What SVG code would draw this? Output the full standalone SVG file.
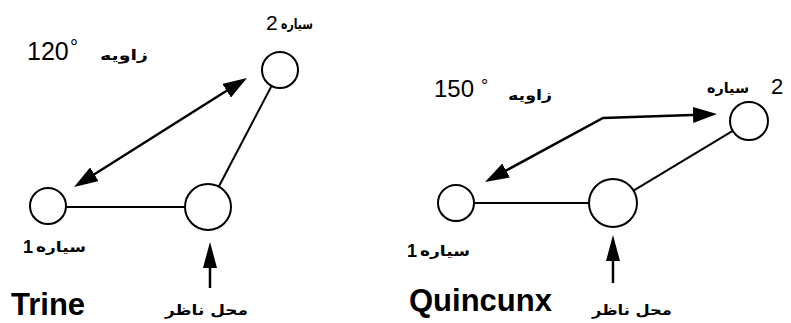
<svg xmlns="http://www.w3.org/2000/svg" width="791" height="323" viewBox="0 0 791 323">
<style>
.bg{fill:#fff}
.body{fill:#fff;stroke:#000;stroke-width:2}
.ln{stroke:#000;stroke-width:2;fill:none}
.ar{stroke:#000;stroke-width:2.5;fill:none}
.num{font-family:"Liberation Sans",Arial,sans-serif;fill:#000}
.fa{font-family:"DejaVu Sans","Noto Sans",sans-serif;fill:#000;font-size:14px;font-weight:bold}
.title{font-family:"Liberation Sans",Arial,sans-serif;font-weight:bold;font-size:31px;fill:#000}
</style>
<defs>
<marker id="ah" viewBox="0 0 24 16" refX="14" refY="8" markerWidth="24" markerHeight="16" markerUnits="userSpaceOnUse" orient="auto-start-reverse">
<path d="M0,0 L24,8 L0,16 z" fill="#000"/>
</marker>
<marker id="ahv" viewBox="0 0 26 14" refX="16" refY="7" markerWidth="26" markerHeight="14" markerUnits="userSpaceOnUse" orient="auto">
<path d="M0,0 L26,7 L0,14 z" fill="#000"/>
</marker>
</defs>
<rect class="bg" x="0" y="0" width="791" height="323"/>

<g id="connectors">
<!-- Trine -->
<line class="ln" x1="66" y1="207" x2="185" y2="207"/>
<line class="ln" x1="218.7" y1="186.7" x2="271.6" y2="85.9"/>
<line class="ar" x1="82.5" y1="181.7" x2="238.5" y2="83.3" marker-start="url(#ah)" marker-end="url(#ah)"/>
<line class="ar" x1="210" y1="288" x2="210" y2="252" marker-end="url(#ahv)"/>
<!-- Quincunx -->
<line class="ln" x1="474" y1="203" x2="589" y2="203"/>
<line class="ln" x1="633.5" y1="190.6" x2="732.7" y2="130.8"/>
<path class="ar" d="M493.8,177.2 L603,118 L707,114.4" marker-start="url(#ah)" marker-end="url(#ah)"/>
<line class="ar" x1="613" y1="283" x2="613" y2="245" marker-end="url(#ahv)"/>
</g>

<!-- Trine diagram -->
<g id="trine-planet1">
<circle class="body" cx="48" cy="206" r="18"/>
<text class="num" x="23" y="253" font-size="18" font-weight="bold">1</text>
<text class="fa" x="36" y="252" textLength="50" lengthAdjust="spacingAndGlyphs">سیاره</text>
</g>
<g id="trine-planet2">
<circle class="body" cx="280" cy="70" r="18"/>
<text class="num" x="266" y="30" font-size="21">2</text>
<text class="fa" x="281" y="29" textLength="32" lengthAdjust="spacingAndGlyphs">سیاره</text>
</g>
<g id="trine-observer">
<circle class="body" cx="208" cy="207" r="23"/>
<text class="fa" x="165" y="315" textLength="83" lengthAdjust="spacingAndGlyphs">محل ناظر</text>
</g>
<g id="trine-angle">
<text class="num" x="27" y="60" font-size="25">120</text>
<text class="num" x="70" y="54" font-size="20">°</text>
<text class="fa" x="100" y="60" textLength="48" lengthAdjust="spacingAndGlyphs">زاویه</text>
</g>
<text class="title" x="11" y="315">Trine</text>

<!-- Quincunx diagram -->
<g id="quincunx-planet1">
<circle class="body" cx="456" cy="203" r="18"/>
<text class="num" x="407" y="257" font-size="18" font-weight="bold">1</text>
<text class="fa" x="420" y="256" textLength="50" lengthAdjust="spacingAndGlyphs">سیاره</text>
</g>
<g id="quincunx-planet2">
<circle class="body" cx="749" cy="121" r="19"/>
<text class="fa" x="707" y="93" textLength="42" lengthAdjust="spacingAndGlyphs">سیاره</text>
<text class="num" x="771" y="94" font-size="22">2</text>
</g>
<g id="quincunx-observer">
<circle class="body" cx="613" cy="203" r="24"/>
<text class="fa" x="592" y="315" textLength="80" lengthAdjust="spacingAndGlyphs">محل ناظر</text>
</g>
<g id="quincunx-angle">
<text class="num" x="434" y="97" font-size="24">150</text>
<text class="num" x="481" y="92" font-size="18">°</text>
<text class="fa" x="508" y="100" textLength="44" lengthAdjust="spacingAndGlyphs">زاویه</text>
</g>
<text class="title" x="409" y="311">Quincunx</text>
</svg>
